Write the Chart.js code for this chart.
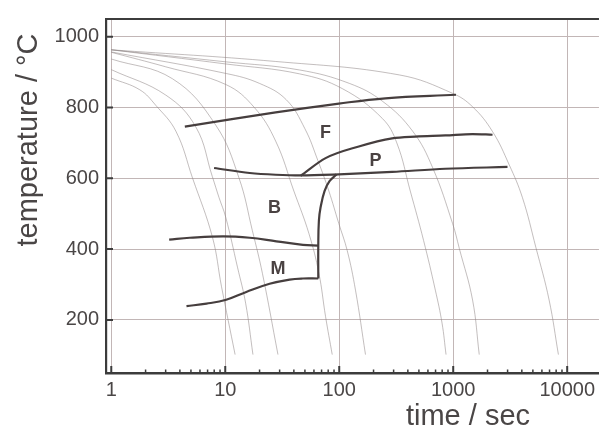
<!DOCTYPE html>
<html>
<head>
<meta charset="utf-8">
<script src="https://cdn.jsdelivr.net/npm/chart.js@4.4.0/dist/chart.umd.min.js"></script>
<style>
html, body { margin: 0; padding: 0; background: #fff; }
#wrap { width: 600px; height: 428px; }
</style>
</head>
<body>
<div id="wrap"><canvas id="cct" width="600" height="428"></canvas></div>
<script>
var timeTicks = [1, 10, 100, 1000, 10000];
var tempTicks = [200, 400, 600, 800, 1000];

// cooling curves, [time in s, temperature in C]
var cool1 = [[1, 883], [1.78, 850], [2.46, 806], [3.69, 733], [5.16, 601], [7.73, 433], [9.26, 295], [12.2, 102]];
var cool2 = [[1, 907], [3.01, 835], [5.52, 745], [7.7, 605], [8.83, 545], [10.1, 490], [12.8, 349], [15.1, 247], [17.5, 102]];
var cool3 = [[1, 937], [3.45, 881], [8.26, 750], [13.2, 601], [17.3, 452], [21.2, 331], [29, 102]];
var cool4 = [[1, 956], [3, 915], [10.1, 865], [18, 800], [27.7, 705], [40, 564], [54.2, 444], [66.3, 332], [75.9, 209], [86.8, 102]];
var cool5 = [[1, 957], [10.2, 896], [20, 868], [34.3, 822], [50, 740], [65, 650], [81.1, 564], [99.2, 472], [117.5, 396], [138.9, 284], [170, 102]];
var cool6 = [[1, 963], [10.1, 923], [44.9, 895], [106.9, 853], [239, 769], [320, 700], [420, 564], [550, 424], [697, 284], [798, 191], [865, 102]];
var cool7 = [[1, 963], [10.1, 929], [44.9, 906], [123, 868], [241, 817], [441, 733], [660, 630], [988, 472], [1131, 402], [1479, 256], [1692, 102]];
var cool8 = [[1, 963], [27.7, 930], [337, 892], [988, 840], [1479, 802], [2213, 732], [3100, 638], [4053, 545], [5310, 405], [6943, 256], [8375, 102]];

// transformation lines
var ferriteStart = [[4.42, 746], [27.7, 786], [99.2, 811], [254, 826], [1058, 836]];
var pearliteTop = [[45.8, 607], [75.9, 657], [148.5, 690], [291, 713], [466, 718], [853, 721], [1479, 725], [2213, 723]];
var pearliteBottom = [[7.98, 629], [16.4, 615], [27.7, 610], [45.8, 608], [99.2, 611], [291, 618], [853, 627], [2994, 632]];
var bainiteEdge = [[94.7, 611], [82.2, 592], [74.3, 564], [68.6, 518], [66.3, 480], [65.5, 410], [65.5, 317]];
var bainiteStart = [[3.22, 427], [4.89, 432], [9.57, 436], [16.4, 432], [28.1, 422], [48, 412], [65.5, 410]];
var martensiteStart = [[4.57, 239], [6.85, 246], [10.2, 257], [15.3, 279], [24.5, 302], [36.7, 314], [48, 317], [65.5, 317]];

var phaseNames = ['F', 'P', 'B', 'M'];
var phaseTime = [75.9, 208, 27.1, 29];
var phaseTemp = [727, 648, 517, 345];

var fontName = '"Liberation Sans", Arial, Helvetica, sans-serif';
var textColor = '#4a4646';

function pts(arr) {
  return arr.map(function(p) { return {x: p[0], y: p[1]}; });
}

function thick(arr, mode) {
  return {data: pts(arr), showLine: true, pointRadius: 0, borderColor: '#463e3e', borderWidth: 2.2,
    cubicInterpolationMode: mode || 'monotone', tension: 0.4};
}

function thin(arr) {
  return {data: pts(arr), showLine: true, pointRadius: 0, borderColor: 'rgba(140,130,130,0.65)', borderWidth: 0.8,
    tension: 0.4};
}

var decor = {
  id: 'decor',
  afterDraw: function(chart) {
    var c = chart.ctx;
    var a = chart.chartArea;
    var xs = chart.scales.x;
    var ys = chart.scales.y;
    c.save();
    c.strokeStyle = '#3c3c3c';
    c.lineWidth = 2.2;
    c.beginPath();
    c.moveTo(a.left - 1, a.top);
    c.lineTo(a.right, a.top);
    c.stroke();

    // inward ticks
    c.lineWidth = 2;
    c.beginPath();
    tempTicks.forEach(function(v) {
      var y = ys.getPixelForValue(v);
      c.moveTo(a.left, y);
      c.lineTo(a.left + 7, y);
    });
    timeTicks.forEach(function(v) {
      var x = xs.getPixelForValue(v);
      c.moveTo(x, a.bottom);
      c.lineTo(x, a.bottom - 7);
    });
    c.stroke();
    c.lineWidth = 1.5;
    c.beginPath();
    timeTicks.forEach(function(v) {
      for (var k = 2; k < 10; k++) {
        var x = xs.getPixelForValue(v * k);
        if (x > a.right) continue;
        c.moveTo(x, a.bottom);
        c.lineTo(x, a.bottom - 3.5);
      }
    });
    c.stroke();

    // region labels
    c.fillStyle = '#4a4242';
    c.font = 'bold 18px ' + fontName;
    c.textAlign = 'center';
    c.textBaseline = 'middle';
    for (var i = 0; i < phaseNames.length; i++) {
      c.fillText(phaseNames[i], xs.getPixelForValue(phaseTime[i]), ys.getPixelForValue(phaseTemp[i]));
    }

    // axis titles
    c.fillStyle = textColor;
    c.font = '29px ' + fontName;
    c.textBaseline = 'alphabetic';
    c.fillText('time / sec', 468, 425);
    c.translate(37, 140);
    c.rotate(-Math.PI / 2);
    c.fillText('temperature / \u00B0C', 0, 0);
    c.restore();
  }
};

new Chart(document.getElementById('cct'), {
  type: 'scatter',
  data: {
    datasets: [
      thick(ferriteStart, 'default'), thick(pearliteTop), thick(pearliteBottom), thick(bainiteEdge, 'default'),
      thick(bainiteStart, 'default'), thick(martensiteStart, 'default'),
      thin(cool1), thin(cool2), thin(cool3), thin(cool4), thin(cool5), thin(cool6), thin(cool7), thin(cool8)
    ]
  },
  options: {
    responsive: false,
    animation: false,
    layout: {padding: {top: 17, right: 0, left: 0, bottom: 0}},
    plugins: {legend: {display: false}, tooltip: {enabled: false}},
    scales: {
      x: {
        type: 'logarithmic', min: 0.899, max: 19000,
        afterBuildTicks: function(s) { s.ticks = timeTicks.map(function(v) { return {value: v}; }); },
        afterFit: function(s) { s.height = 55; },
        grid: {color: '#c2b6b6', lineWidth: 1, drawTicks: false},
        border: {display: true, color: '#3c3c3c', width: 2.5},
        ticks: {font: {family: fontName, size: 20}, color: textColor, padding: 5, maxRotation: 0, autoSkip: false,
          callback: function(v) { return String(v); }}
      },
      y: {
        type: 'linear', min: 50, max: 1050,
        afterBuildTicks: function(s) { s.ticks = tempTicks.map(function(v) { return {value: v}; }); },
        afterFit: function(s) { s.width = 106; },
        grid: {color: '#c2b6b6', lineWidth: 1, drawTicks: false},
        border: {display: true, color: '#3c3c3c', width: 2.2},
        ticks: {font: {family: fontName, size: 20}, color: textColor, padding: 7,
          callback: function(v) { return String(v); }}
      }
    }
  },
  plugins: [decor]
});
</script>
</body>
</html>
